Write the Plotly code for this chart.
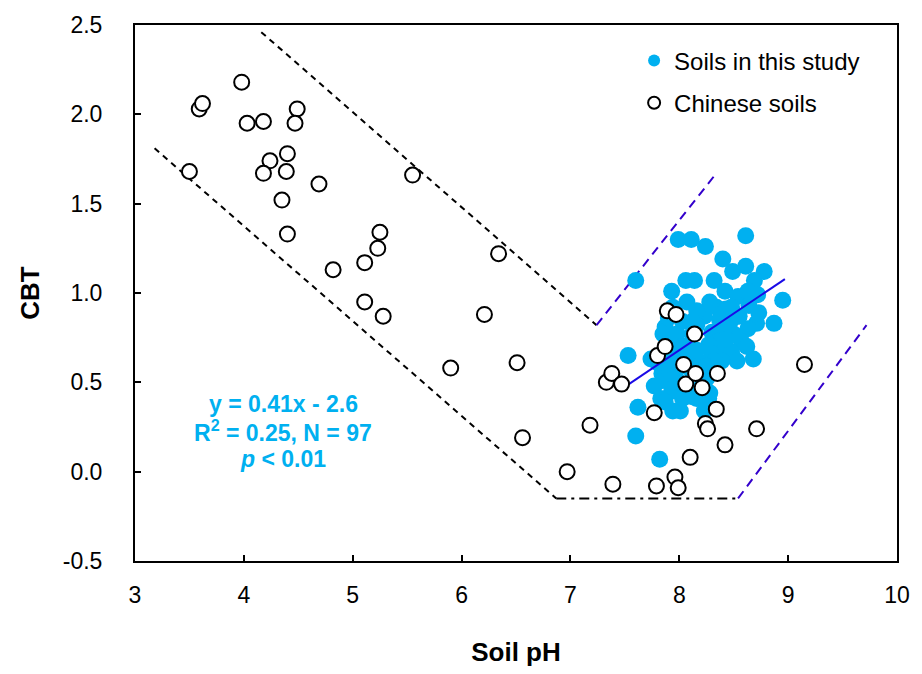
import plotly.graph_objects as go

# Soils in this study (filled)
study_ph = [7.60, 7.99, 8.11, 8.24, 8.61, 8.40, 8.49, 8.61, 8.78, 8.32,
            8.06, 8.14, 8.69, 8.95, 8.42, 8.54, 8.63, 8.72, 8.34, 8.43,
            7.93, 8.87, 8.71, 8.63, 8.50, 8.57, 8.23, 8.16, 7.87, 7.85,
            8.30, 8.36, 8.27, 8.42, 8.03, 8.09, 7.53, 7.74, 7.62, 7.60,
            7.82, 7.84, 7.83, 7.93, 7.87, 8.01, 8.00, 8.12, 7.85, 8.09,
            7.98, 7.92, 8.21, 8.27, 8.68, 7.94, 8.07, 8.16, 8.28, 8.37,
            8.48, 8.55, 8.43, 8.12, 7.98, 7.90, 8.03, 8.16, 8.30, 8.48,
            8.53, 8.39, 8.32, 8.25, 8.12, 8.05, 7.94, 7.90, 7.96, 8.07,
            8.21, 8.23, 8.16, 8.03, 7.94, 7.77, 7.89, 8.43, 8.62, 8.25,
            8.28, 8.23, 7.80, 8.73, 8.12, 8.64, 8.48]
study_cbt = [1.07, 1.30, 1.30, 1.26, 1.32, 1.19, 1.12, 1.15, 1.12, 1.07,
             1.07, 1.07, 1.07, 0.96, 1.01, 0.98, 1.01, 0.99, 0.92, 0.91,
             1.01, 0.83, 0.83, 0.80, 0.77, 0.73, 0.87, 0.82, 0.81, 0.77,
             0.78, 0.73, 0.71, 0.69, 0.84, 0.71, 0.65, 0.63, 0.36, 0.20,
             0.07, 0.55, 0.41, 0.45, 0.39, 0.34, 0.50, 0.42, 0.51, 0.64,
             0.66, 0.72, 0.61, 0.41, 0.63, 0.92, 0.95, 0.90, 0.95, 0.85,
             0.85, 0.87, 0.81, 0.77, 0.77, 0.86, 0.70, 0.68, 0.66, 0.67,
             0.62, 0.62, 0.62, 0.52, 0.56, 0.59, 0.62, 0.57, 0.53, 0.48,
             0.48, 0.55, 0.41, 0.41, 0.34, 0.48, 0.67, 0.74, 0.70, 0.59,
             0.44, 0.34, 0.61, 0.89, 0.84, 0.93, 0.92]

# Chinese soils (open circles)
china_ph = [3.50, 3.59, 3.62, 3.98, 4.03, 4.18, 4.49, 4.47, 4.24, 4.18,
            4.40, 4.39, 4.35, 4.40, 4.69, 4.82, 5.11, 5.25, 5.23, 5.11,
            5.28, 5.55, 5.90, 6.21, 6.34, 6.51, 6.56, 6.97, 7.18, 7.33,
            7.38, 7.47, 7.39, 7.77, 7.80, 7.79, 7.87, 7.89, 7.97, 7.96,
            7.99, 8.04, 8.06, 8.10, 8.14, 8.15, 8.21, 8.24, 8.26, 8.34,
            8.35, 8.42, 8.71, 9.15]
china_cbt = [1.68, 2.03, 2.06, 2.18, 1.95, 1.96, 2.03, 1.95, 1.74, 1.67,
             1.78, 1.68, 1.52, 1.33, 1.61, 1.13, 1.17, 1.34, 1.25, 0.95,
             0.87, 1.66, 0.58, 0.88, 1.22, 0.61, 0.19, 0.00, 0.26, 0.50,
             0.55, 0.49, -0.07, 0.33, 0.65, -0.08, 0.70, 0.90, 0.88, -0.03,
             -0.09, 0.60, 0.49, 0.08, 0.77, 0.55, 0.47, 0.27, 0.24, 0.35,
             0.55, 0.15, 0.24, 0.60]

# Regression line y = 0.41x - 2.6
fit_ph = [7.52, 8.97]
fit_slope = 0.41
fit_intercept = -2.6
fit_cbt = [fit_slope * v + fit_intercept for v in fit_ph]

# Envelope guide lines
upper_black_ph = [4.16, 7.24]
upper_black_cbt = [2.46, 0.82]
upper_blue_ph = [7.24, 8.34]
upper_blue_cbt = [0.82, 1.67]
lower_black_ph = [3.18, 6.87]
lower_black_cbt = [1.81, -0.15]
lower_flat_ph = [6.87, 8.54]
lower_flat_cbt = [-0.15, -0.15]
lower_blue_ph = [8.54, 9.72]
lower_blue_cbt = [-0.15, 0.82]

x_ticks = [3, 4, 5, 6, 7, 8, 9, 10]
y_ticks = [-0.5, 0.0, 0.5, 1.0, 1.5, 2.0, 2.5]
y_labels = ["-0.5", "0.0", "0.5", "1.0", "1.5", "2.0", "2.5"]

stat_lines = ["y = 0.41x - 2.6", "R<sup>2</sup> = 0.25, N = 97", "<i>p</i> < 0.01"]
stat_x = 4.36
stat_y = [0.38, 0.23, 0.07]

CYAN = "#00B0F0"
FONT = "Liberation Sans, Arial, sans-serif"

fig = go.Figure()

def guide(xs, ys, color, dash):
    fig.add_trace(go.Scatter(x=xs, y=ys, mode="lines", showlegend=False,
                             hoverinfo="skip",
                             line=dict(color=color, width=2, dash=dash)))

guide(upper_black_ph, upper_black_cbt, "black", "6px,5px")
guide(lower_black_ph, lower_black_cbt, "black", "6px,5px")
guide(lower_flat_ph, lower_flat_cbt, "black", "10px,5px,3px,5px")
guide(upper_blue_ph, upper_blue_cbt, "#3300CC", "9px,6px")
guide(lower_blue_ph, lower_blue_cbt, "#3300CC", "9px,6px")

fig.add_trace(go.Scatter(x=study_ph, y=study_cbt, mode="markers",
                         name="Soils in this study", legendgroup="a",
                         marker=dict(color=CYAN, size=17, line=dict(width=0))))

fig.add_trace(go.Scatter(x=fit_ph, y=fit_cbt, mode="lines", showlegend=False,
                         line=dict(color="#1a0ae6", width=2)))

fig.add_trace(go.Scatter(x=china_ph, y=china_cbt, mode="markers",
                         name="Chinese soils", legendgroup="b",
                         marker=dict(color="white", size=15,
                                     line=dict(color="black", width=2))))

for txt, yy in zip(stat_lines, stat_y):
    fig.add_annotation(x=stat_x, y=yy, xref="x", yref="y", showarrow=False,
                       text=txt,
                       font=dict(family=FONT, size=23, color=CYAN, weight="bold"))

fig.update_layout(
    width=922, height=674,
    margin=dict(l=135, r=14, t=18, b=111),
    plot_bgcolor="white", paper_bgcolor="white",
    font=dict(family=FONT, size=23, color="black"),
    showlegend=True,
    legend=dict(x=0.655, y=0.975, xanchor="left", yanchor="top",
                bgcolor="rgba(0,0,0,0)", font=dict(size=24),
                itemsizing="constant", tracegroupgap=8, itemwidth=30),
    xaxis=dict(range=[3, 10], tickvals=x_ticks, ticktext=[str(v) for v in x_ticks],
               ticks="inside", ticklen=6, tickwidth=1.5, tickcolor="black",
               tickfont=dict(size=23), ticklabelstandoff=12,
               showline=True, linecolor="black", linewidth=2, mirror=True,
               showgrid=False, zeroline=False,
               title=dict(text="<b>Soil pH</b>", font=dict(size=26), standoff=36)),
    yaxis=dict(range=[-0.5, 2.5], tickvals=y_ticks, ticktext=y_labels,
               ticks="inside", ticklen=6, tickwidth=1.5, tickcolor="black",
               tickfont=dict(size=23), ticklabelstandoff=26,
               showline=True, linecolor="black", linewidth=2, mirror=True,
               showgrid=False, zeroline=False,
               title=dict(text="<b>CBT</b>", font=dict(size=26), standoff=16)),
)

fig.write_html("out.html")
